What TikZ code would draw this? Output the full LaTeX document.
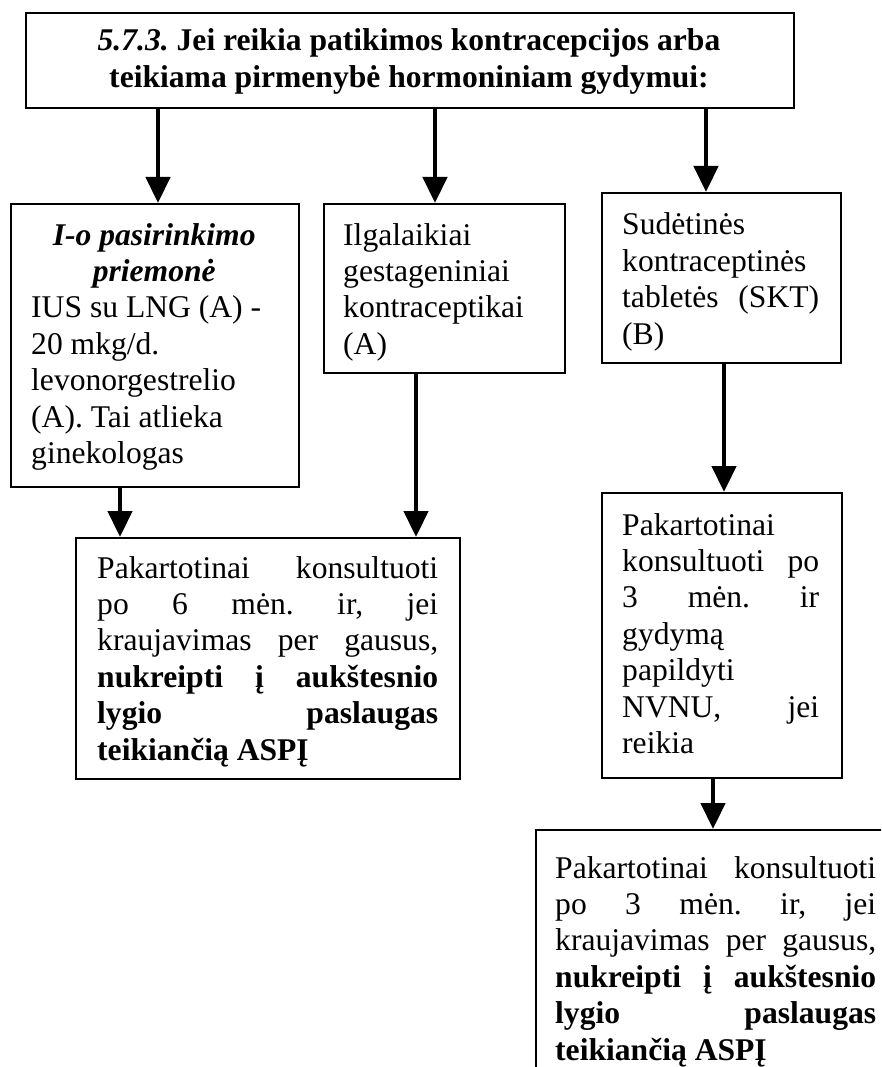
\documentclass[tikz,border=0pt]{standalone}
\usepackage{fontspec}
\setmainfont{Liberation Serif}
\usetikzlibrary{arrows.meta}

% a line of justified text (interword spaces stretched to the full width)
\newcommand{\jl}[1]{\makebox[\linewidth][s]{\spaceskip=0pt\xspaceskip=0pt #1}}
% a centred line of text
\newcommand{\cl}[1]{\makebox[\linewidth][c]{#1}}

\begin{document}
\begin{tikzpicture}[x=1pt,y=-1pt,
  box/.style={draw, line width=1.6pt, inner sep=0pt, anchor=north west},
  txt/.style={anchor=base west, inner sep=0pt, align=flush left,
    font=\fontsize{31.6pt}{36.4pt}\selectfont\frenchspacing},
  arr/.style={line width=4.5pt, -{Triangle[width=24pt,length=26pt]}}]

\useasboundingbox (0,0) rectangle (881,1067);
\fill[white] (0,0) rectangle (881,1067);
\clip (0,0) rectangle (881,1067);

% boxes
\node[box, minimum width=768pt, minimum height=95pt]  (top) at (25,12)  {};
\node[box, minimum width=288pt, minimum height=283pt] (b1)  at (10,203) {};
\node[box, minimum width=241pt, minimum height=169pt] (b2)  at (323,203) {};
\node[box, minimum width=239pt, minimum height=170pt] (b3)  at (601,192) {};
\node[box, minimum width=384pt, minimum height=241pt] (b4)  at (75,537) {};
\node[box, minimum width=240pt, minimum height=285pt] (b5)  at (601,492) {};
\node[box, minimum width=400pt, minimum height=300pt] (b6)  at (535,829) {};

% texts
\node[txt, anchor=base, text width=740pt, align=flush center] (ttop) at (409,51)
  {\bfseries\textit{5.7.3.} Jei reikia patikimos kontracepcijos arba\\
   \bfseries teikiama pirmenybė hormoniniam gydymui:};

\node[txt, text width=246pt] (t1) at (31,245)
  {\cl{\bfseries\itshape I-o pasirinkimo}\\
   \cl{\bfseries\itshape priemonė}\\
   IUS su LNG (A) -\\
   20 mkg/d.\\
   levonorgestrelio\\
   (A). Tai atlieka\\
   ginekologas};

\node[txt, text width=201pt] (t2) at (343,245)
  {Ilgalaikiai\\
   gestageniniai\\
   kontraceptikai\\
   (A)};

\node[txt, text width=197pt] (t3) at (622,235)
  {Sudėtinės\\
   kontraceptinės\\
   \jl{tabletės (SKT)}\\
   (B)};

\node[txt, text width=341pt] (t4) at (97,578)
  {\jl{Pakartotinai konsultuoti}\\
   \jl{po 6 mėn. ir, jei}\\
   \jl{kraujavimas per gausus,}\\
   \jl{\bfseries nukreipti į aukštesnio}\\
   \jl{\bfseries lygio paslaugas}\\
   \textbf{teikiančią ASPĮ}};

\node[txt, text width=197pt] (t5) at (622,535)
  {Pakartotinai\\
   \jl{konsultuoti po}\\
   \jl{3 mėn. ir}\\
   gydymą\\
   papildyti\\
   \jl{NVNU, jei}\\
   reikia};

\node[txt, text width=321pt] (t6) at (555,878)
  {\jl{Pakartotinai konsultuoti}\\
   \jl{po 3 mėn. ir, jei}\\
   \jl{kraujavimas per gausus,}\\
   \jl{\bfseries nukreipti į aukštesnio}\\
   \jl{\bfseries lygio paslaugas}\\
   \textbf{teikiančią ASPĮ}};

% connector columns
\coordinate (xa) at (158,0);
\coordinate (xb) at (435,0);
\coordinate (xc) at (706,0);
\coordinate (xd) at (120,0);
\coordinate (xe) at (416,0);
\coordinate (xf) at (724,0);
\coordinate (xg) at (713,0);

% connectors
\draw[arr] (xa |- top.south) -- (xa |- b1.north);
\draw[arr] (xb |- top.south) -- (xb |- b2.north);
\draw[arr] (xc |- top.south) -- (xc |- b3.north);
\draw[arr] (xd |- b1.south) -- (xd |- b4.north);
\draw[arr] (xe |- b2.south) -- (xe |- b4.north);
\draw[arr] (xf |- b3.south) -- (xf |- b5.north);
\draw[arr] (xg |- b5.south) -- (xg |- b6.north);

\end{tikzpicture}
\end{document}
